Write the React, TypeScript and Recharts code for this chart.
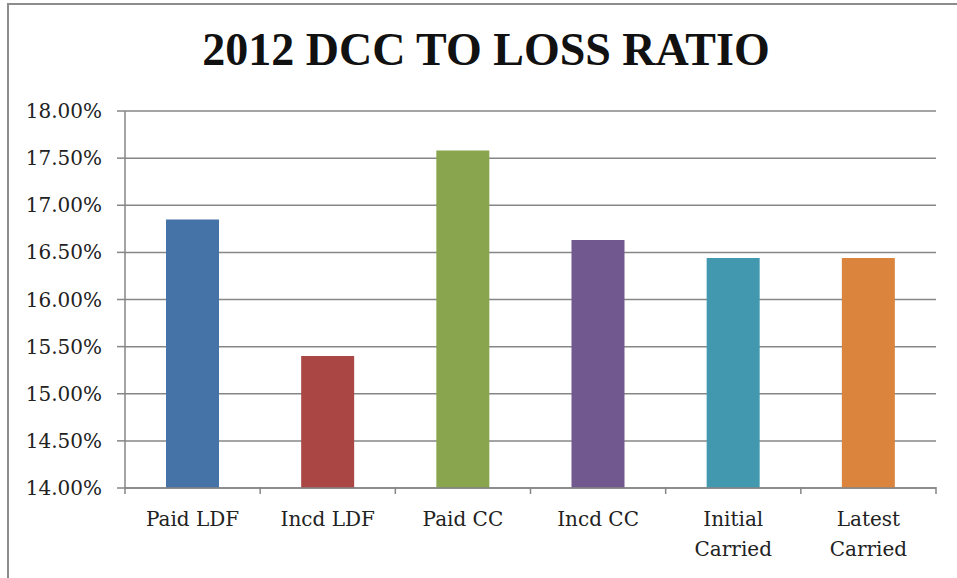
import { BarChart, Bar, XAxis, YAxis, CartesianGrid, Cell } from "recharts";

const categories = ["Paid LDF", "Incd LDF", "Paid CC", "Incd CC", "Initial\nCarried", "Latest\nCarried"];
const ratios = [16.85, 15.4, 17.58, 16.63, 16.44, 16.44];
const barColors = ["#4572A7", "#AA4643", "#89A54E", "#71588F", "#4198AF", "#DB843D"];
const yTicks = [14, 14.5, 15, 15.5, 16, 16.5, 17, 17.5, 18];

const data = categories.map((name, i) => ({ name, ratio: ratios[i] }));

const TITLE_FONT = "'Liberation Serif', 'Times New Roman', serif";
const LABEL_FONT = "DejaVu Serif";
const AXIS_GRAY = "#868686";
// half of a category band, used for the boundary tick marks
const HALF_BAND = (936 - 125) / categories.length / 2;

function CategoryTick(props: any) {
  const { x, y, payload, index } = props;
  const lines = String(payload.value).split("\n");
  const axisY = y - 8;
  return (
    <g>
      <line x1={x - HALF_BAND} y1={axisY - 1} x2={x - HALF_BAND} y2={axisY + 6} stroke={AXIS_GRAY} strokeWidth={1.5} />
      {index === categories.length - 1 && (
        <line x1={x + HALF_BAND} y1={axisY - 1} x2={x + HALF_BAND} y2={axisY + 6} stroke={AXIS_GRAY} strokeWidth={1.5} />
      )}
      <text x={x} y={axisY + 38} textAnchor="middle" fontFamily={LABEL_FONT} fontSize={20} fill="#222">
        {lines.map((l, i) => (
          <tspan key={i} x={x} dy={i === 0 ? 0 : 30}>
            {l}
          </tspan>
        ))}
      </text>
    </g>
  );
}

export default function App() {
  return (
    <div style={{ position: "absolute", left: 0, top: 0, width: 957, height: 578, overflow: "hidden", background: "#fff" }}>
      <div
        style={{
          position: "absolute",
          left: 7,
          top: 3,
          width: 980,
          height: 600,
          borderLeft: "2px solid #8c8c8c",
          borderTop: "2px solid #8c8c8c",
        }}
      />
      <div
        style={{
          position: "absolute",
          left: 0,
          top: 27,
          width: 972,
          textAlign: "center",
          fontFamily: TITLE_FONT,
          fontWeight: "bold",
          fontSize: 46,
          lineHeight: "46px",
          color: "#111",
        }}
      >
        2012 DCC TO LOSS RATIO
      </div>
      <div style={{ position: "absolute", left: 0, top: 0 }}>
        <BarChart width={957} height={578} data={data} margin={{ top: 111, right: 21, bottom: 0, left: 0 }}>
          <CartesianGrid vertical={false} stroke={AXIS_GRAY} strokeWidth={1.5} />
          <XAxis
            dataKey="name"
            height={90}
            interval={0}
            tickLine={false}
            axisLine={{ stroke: AXIS_GRAY, strokeWidth: 1.5 }}
            tick={<CategoryTick />}
            tickSize={8}
            tickMargin={0}
          />
          <YAxis
            width={125}
            domain={[14, 18]}
            ticks={yTicks}
            interval={0}
            tickSize={8}
            tickMargin={15}
            tickLine={{ stroke: AXIS_GRAY, strokeWidth: 1.5 }}
            axisLine={{ stroke: AXIS_GRAY, strokeWidth: 1.5 }}
            tickFormatter={(v: number) => v.toFixed(2) + "%"}
            tick={{ fontSize: 20, fill: "#222", fontFamily: LABEL_FONT }}
          />
          <Bar dataKey="ratio" barSize={53} isAnimationActive={false}>
            {data.map((d, i) => (
              <Cell key={d.name} fill={barColors[i]} />
            ))}
          </Bar>
        </BarChart>
      </div>
    </div>
  );
}
